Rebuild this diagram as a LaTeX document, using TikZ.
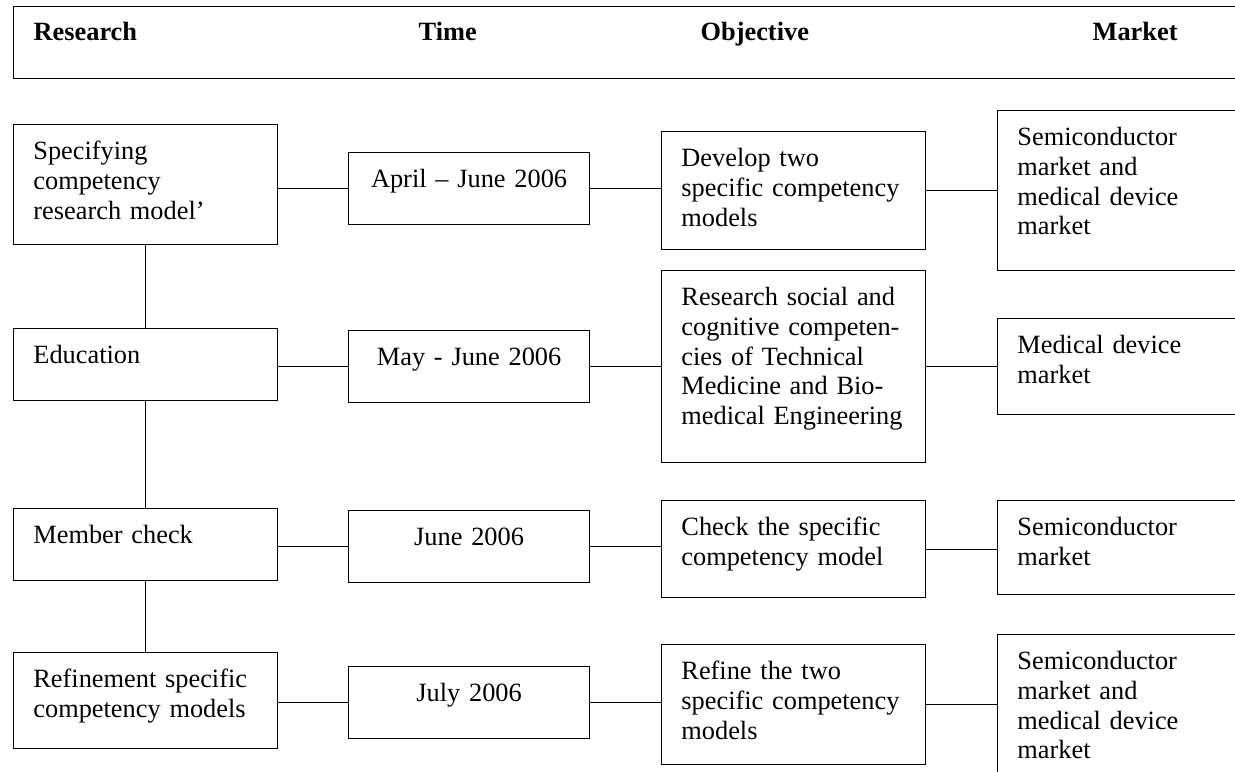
\documentclass[tikz,border=0pt]{standalone}
\usepackage{fontspec}
\setmainfont{Liberation Serif}

\begin{document}
\begin{tikzpicture}[x=0.016cm,y=-0.016cm,line width=0.6pt,
      every node/.style={font=\fontsize{12}{13.5}\selectfont},
      box/.style={draw,anchor=north west,align=left,inner xsep=9pt,inner ysep=4pt,text height=12pt},
      leftbox/.style={box,text width=102.2pt},
      timebox/.style={box,align=center,text width=91.7pt},
      objbox/.style={box,text width=102.2pt},
      mktbox/.style={box,text width=100.4pt},
      headtext/.style={font=\fontsize{12}{13.5}\selectfont\bfseries,anchor=base west,inner sep=0pt}]
      \useasboundingbox (0,0) rectangle (1235,771);
      \clip (0,0) rectangle (1235,771);
      % column titles
      \node (header) [draw,anchor=north west,inner sep=0pt,minimum width=19.9cm,minimum height=1.152cm] at (13,6) {};
      \node[headtext] (hres)  at (33,41)   {Research};
      \node[headtext] (htime) at (418,41)  {Time};
      \node[headtext] (hobj)  at (700,41)  {Objective};
      \node[headtext] (hmkt)  at (1092,41) {Market};
      % research
      \node[leftbox,text depth=34.6pt] (spec)   at (13,124) {Specifying\\competency\\research model’};
      \node[leftbox,text depth=12.8pt] (edu)    at (13,328) {Education};
      \node[leftbox,text depth=12.8pt] (member) at (13,508) {Member check};
      \node[leftbox,text depth=23.7pt] (refine) at (13,652) {Refinement specific\\competency models};
      % time
      \node[timebox,text depth=12.8pt] (april) at (348,152) {April -- June 2006};
      \node[timebox,text depth=12.8pt] (may)   at (348,330) {May - June 2006};
      \node[timebox,text depth=12.8pt] (june)  at (348,510) {June 2006};
      \node[timebox,text depth=12.8pt] (july)  at (348,666) {July 2006};
      % objective
      \node[objbox,text depth=33.7pt] (develop) at (661,131) {Develop two\\specific competency\\models};
      \node[objbox,text depth=67.4pt] (social)  at (661,270) {Research social and\\cognitive competen-\\cies of Technical\\Medicine and Bio-\\medical Engineering};
      \node[objbox,text depth=24.2pt] (check)   at (661,500) {Check the specific\\competency model};
      \node[objbox,text depth=34.6pt] (refobj)  at (661,644) {Refine the two\\specific competency\\models};
      % market
      \node[mktbox,text depth=52.8pt] (semi1)   at (997,110) {Semiconductor\\market and\\medical device\\market};
      \node[mktbox,text depth=23.7pt] (medical) at (997,318) {Medical device\\market};
      \node[mktbox,text depth=22.8pt] (semi2)   at (997,500) {Semiconductor\\market};
      \node[mktbox,text depth=52.8pt] (semi3)   at (997,634) {Semiconductor\\market and\\medical device\\market};
      \draw (spec) -- (edu) (edu) -- (member) (member) -- (refine);
      \foreach \r/\t/\o/\m in {spec/april/develop/semi1,edu/may/social/medical,member/june/check/semi2,refine/july/refobj/semi3}
        \draw (\t.west -| \r.east) -- (\t.west) (\t.east) -- (\t.east -| \o.west) (\o.east) -- (\o.east -| \m.west);
\end{tikzpicture}
\end{document}
